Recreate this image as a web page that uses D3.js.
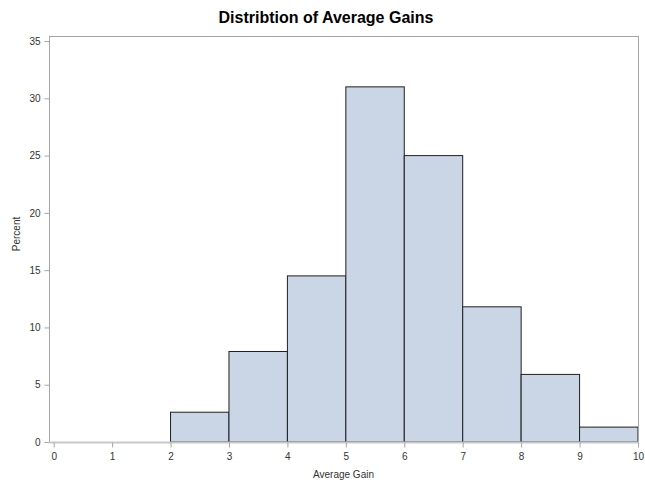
<!DOCTYPE html>
<html>
<head>
<meta charset="utf-8">
<script src="https://cdn.jsdelivr.net/npm/d3@7"></script>
<style>
  body { margin: 0; background: #fff; }
  svg { display: block; font-family: "Liberation Sans", Arial, sans-serif; }
</style>
</head>
<body>
<svg id="chart" width="645" height="483"></svg>
<script>
const binStarts = [2, 3, 4, 5, 6, 7, 8, 9];
const binWidth = 1;
const percents = [2.6, 7.9, 14.5, 31.0, 25.0, 11.8, 5.9, 1.3];
const xTicks = [0, 1, 2, 3, 4, 5, 6, 7, 8, 9, 10];
const yTicks = [0, 5, 10, 15, 20, 25, 30, 35];

const svg = d3.select("#chart");
const L = 49, R = 638, T = 36, B = 442;

const x = d3.scaleLinear().domain([-0.08, 10]).range([L, R]);
const y = d3.scaleLinear().domain([0, 35.44]).range([B, T]);

// bars
svg.append("g").selectAll("rect")
  .data(binStarts.map((s, i) => ({ s, v: percents[i] })))
  .join("rect")
  .attr("x", d => x(d.s))
  .attr("width", d => x(d.s + binWidth) - x(d.s))
  .attr("y", d => y(d.v))
  .attr("height", d => y(0) - y(d.v))
  .attr("fill", "#CAD5E5")
  .attr("stroke", "#1f1f1f")
  .attr("stroke-width", 1);

// frame
svg.append("rect")
  .attr("x", L + 0.5).attr("y", T + 0.5)
  .attr("width", R - L).attr("height", B - T)
  .attr("fill", "none").attr("stroke", "#A6A6A6").attr("stroke-width", 1);

// y axis
const yAxis = svg.append("g").attr("transform", `translate(${L + 0.5},0)`)
  .call(d3.axisLeft(y).tickValues(yTicks).tickSize(5).tickPadding(4));
yAxis.select(".domain").remove();
yAxis.selectAll("line").attr("stroke", "#A6A6A6");
yAxis.selectAll("text").attr("fill", "#333").style("font-size", "10px")
  .style("font-family", "'Liberation Sans', Arial, sans-serif");

// x axis
const xAxis = svg.append("g").attr("transform", `translate(0,${B + 0.5})`)
  .call(d3.axisBottom(x).tickValues(xTicks).tickFormat(d3.format("d")).tickSize(5).tickPadding(5));
xAxis.select(".domain").attr("stroke", "#C8C8C8").attr("stroke-width", 2)
  .attr("d", `M${L},0H${R + 1}`);
xAxis.selectAll("line").attr("stroke", "#A6A6A6");
xAxis.selectAll("text").attr("fill", "#333").style("font-size", "10px")
  .style("font-family", "'Liberation Sans', Arial, sans-serif");

// title
svg.append("text")
  .attr("x", 326).attr("y", 23)
  .attr("text-anchor", "middle")
  .style("font-size", "16px").style("font-weight", "bold").attr("fill", "#000")
  .text("Distribtion of Average Gains");

// axis labels
svg.append("text")
  .attr("x", 343.5).attr("y", 478)
  .attr("text-anchor", "middle")
  .style("font-size", "10px").attr("fill", "#333")
  .text("Average Gain");

svg.append("text")
  .attr("transform", `translate(20,234) rotate(-90)`)
  .attr("text-anchor", "middle")
  .style("font-size", "10px").attr("fill", "#333")
  .text("Percent");
</script>
</body>
</html>
